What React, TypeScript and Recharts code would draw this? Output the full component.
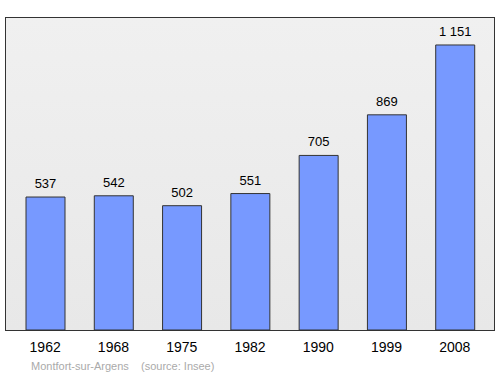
import React from 'react';
import { BarChart, Bar, XAxis, YAxis, LabelList } from 'recharts';

const years = ['1962', '1968', '1975', '1982', '1990', '1999', '2008'];
const population = [537, 542, 502, 551, 705, 869, 1151];

const data = years.map((year, i) => ({ year, population: population[i] }));

const fmt = (v: number) => String(v).replace(/\B(?=(\d{3})+(?!\d))/g, ' ');

export default function App() {
  return (
    <div style={{ position: 'absolute', left: 0, top: 0, width: 500, height: 374, background: '#fff', fontFamily: '"Liberation Sans", Arial, sans-serif' }}>
      <div
        style={{
          position: 'absolute',
          left: 5,
          top: 17,
          width: 488,
          height: 312,
          border: '1px solid #333',
          background: 'linear-gradient(#f0f0f0, #e8e8e8)',
        }}
      />
      <BarChart
        width={500}
        height={374}
        data={data}
        margin={{ top: 17, right: 6, left: 5, bottom: 14 }}
        style={{ position: 'absolute', left: 0, top: 0 }}
      >
        <XAxis
          dataKey="year"
          height={30}
          axisLine={false}
          tickLine={false}
          tickMargin={6}
          padding={{ left: 6, right: 5 }}
          tick={{ fill: '#000', fontSize: 14 }}
          interval={0}
        />
        <YAxis hide domain={[0, 1264]} />
        <Bar dataKey="population" fill="#7799ff" stroke="#333" strokeWidth={1} barSize={39} isAnimationActive={false}>
          <LabelList dataKey="population" position="top" offset={9} formatter={(v: any) => fmt(Number(v))} style={{ fill: '#000', fontSize: 13 }} />
        </Bar>
      </BarChart>
      <div style={{ position: 'absolute', left: 31, top: 360, fontSize: 11, color: '#aaa', whiteSpace: 'pre' }}>
        {'Montfort-sur-Argens    (source: Insee)'}
      </div>
    </div>
  );
}
